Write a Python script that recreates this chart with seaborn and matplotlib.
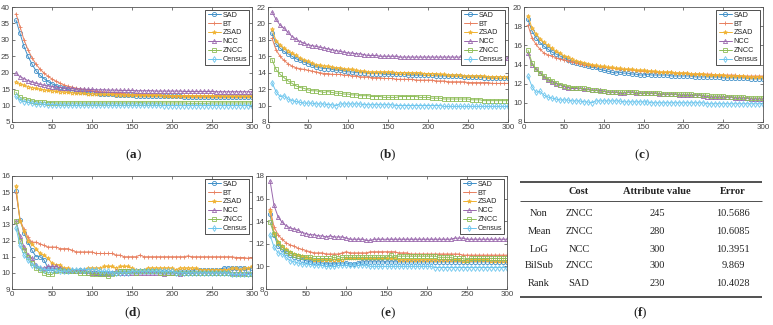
import matplotlib
matplotlib.use("Agg")
import matplotlib.pyplot as plt
import seaborn as sns
import pandas as pd

# iterations (x axis) shared by every panel
x = list(range(5, 305, 5))
methods = ["SAD", "BT", "ZSAD", "NCC", "ZNCC", "Census"]

# ---- panel (a) ----
a_sad = [36.0, 32.0, 28.0, 25.0, 22.6, 20.6, 19.2, 18.2, 17.3, 16.6, 16.0, 15.6,
         15.2, 14.9, 14.6, 14.4, 14.2, 14.0, 13.9, 13.8, 13.7, 13.6, 13.5, 13.4,
         13.4, 13.3, 13.3, 13.2, 13.1, 13.1, 13.0, 13.0, 13.0, 12.9, 12.9, 12.9,
         12.9, 12.8, 12.8, 12.8, 12.8, 12.8, 12.7, 12.7, 12.7, 12.7, 12.7, 12.7,
         12.6, 12.6, 12.6, 12.6, 12.6, 12.6, 12.6, 12.5, 12.5, 12.5, 12.5, 12.5]
a_bt = [38.0, 34.0, 30.0, 27.0, 24.6, 22.6, 21.1, 19.9, 18.9, 18.1, 17.4, 16.8,
        16.3, 15.9, 15.6, 15.3, 15.1, 14.9, 14.7, 14.5, 14.3, 14.2, 14.1, 14.0,
        13.9, 13.8, 13.7, 13.6, 13.5, 13.4, 13.4, 13.3, 13.3, 13.2, 13.2, 13.2,
        13.1, 13.1, 13.1, 13.0, 13.0, 13.0, 13.0, 13.0, 12.9, 12.9, 12.9, 12.9,
        12.9, 12.9, 12.9, 12.8, 12.8, 12.8, 12.8, 12.8, 12.8, 12.8, 12.8, 12.8]
a_zsad = [17.3, 16.6, 16.2, 15.8, 15.5, 15.2, 15.0, 14.8, 14.6, 14.5, 14.3, 14.2,
          14.1, 14.0, 13.9, 13.8, 13.8, 13.7, 13.6, 13.6, 13.5, 13.5, 13.4, 13.4,
          13.4, 13.3, 13.3, 13.3, 13.2, 13.2, 13.2, 13.2, 13.1, 13.1, 13.1, 13.1,
          13.1, 13.0, 13.0, 13.0, 13.0, 13.0, 13.0, 12.9, 12.9, 12.9, 12.9, 12.9,
          12.9, 12.9, 12.9, 12.9, 12.8, 12.8, 12.8, 12.8, 12.8, 12.8, 12.8, 12.8]
a_ncc = [19.8, 18.8, 18.2, 17.6, 17.2, 16.8, 16.5, 16.2, 16.0, 15.8, 15.6, 15.5,
         15.4, 15.3, 15.2, 15.1, 15.0, 15.0, 14.9, 14.9, 14.8, 14.8, 14.8, 14.7,
         14.7, 14.7, 14.6, 14.6, 14.6, 14.6, 14.5, 14.5, 14.5, 14.5, 14.5, 14.4,
         14.4, 14.4, 14.4, 14.4, 14.4, 14.4, 14.3, 14.3, 14.3, 14.3, 14.3, 14.3,
         14.3, 14.3, 14.2, 14.2, 14.2, 14.2, 14.2, 14.2, 14.2, 14.2, 14.2, 14.2]
a_zncc = [14.0, 12.5, 12.0, 11.7, 11.4, 11.2, 11.0, 11.0, 10.9, 10.9, 10.8, 10.8,
          10.8, 10.8, 10.8, 10.8, 10.8, 10.8, 10.8, 10.8, 10.8, 10.8, 10.8, 10.8,
          10.8, 10.8, 10.8, 10.8, 10.8, 10.8, 10.8, 10.9, 10.8, 10.8, 10.8, 10.8,
          10.8, 10.8, 10.8, 10.8, 10.8, 10.8, 10.8, 10.7, 10.7, 10.7, 10.7, 10.7,
          10.7, 10.8, 10.8, 10.8, 10.8, 10.8, 10.8, 10.8, 10.8, 10.8, 10.8, 10.8]
a_census = [12.8, 11.6, 11.2, 11.0, 10.8, 10.6, 10.5, 10.4, 10.3, 10.3, 10.3, 10.2,
            10.2, 10.2, 10.1, 10.1, 10.1, 10.2, 10.2, 10.2, 10.2, 10.2, 10.2, 10.1,
            10.1, 10.1, 10.1, 10.1, 10.1, 10.1, 10.1, 10.1, 10.1, 10.1, 10.1, 10.1,
            10.1, 10.0, 10.0, 10.0, 10.0, 10.0, 10.0, 10.0, 10.0, 10.0, 10.0, 10.0,
            10.0, 10.0, 10.0, 10.0, 10.0, 10.0, 10.0, 10.0, 10.0, 10.0, 10.0, 10.0]

# ---- panel (b) ----
b_sad = [18.8, 17.5, 17.0, 16.6, 16.3, 16.0, 15.7, 15.5, 15.3, 15.1, 14.9, 14.7,
         14.6, 14.5, 14.5, 14.4, 14.3, 14.3, 14.2, 14.1, 14.1, 14.0, 14.0, 14.0,
         13.9, 13.9, 13.9, 13.9, 13.8, 13.8, 13.8, 13.8, 13.8, 13.8, 13.7, 13.7,
         13.7, 13.7, 13.7, 13.7, 13.7, 13.6, 13.6, 13.6, 13.6, 13.6, 13.6, 13.6,
         13.5, 13.5, 13.5, 13.5, 13.5, 13.4, 13.4, 13.4, 13.3, 13.3, 13.3, 13.3]
b_bt = [18.2, 16.8, 16.0, 15.5, 15.1, 14.8, 14.6, 14.5, 14.4, 14.3, 14.2, 14.1,
        14.0, 13.9, 13.9, 13.8, 13.8, 13.8, 13.7, 13.7, 13.6, 13.6, 13.5, 13.5,
        13.5, 13.4, 13.4, 13.4, 13.3, 13.3, 13.3, 13.2, 13.2, 13.2, 13.2, 13.2,
        13.1, 13.1, 13.1, 13.1, 13.1, 13.0, 13.0, 13.0, 12.9, 12.9, 12.9, 12.9,
        12.9, 12.8, 12.8, 12.8, 12.8, 12.8, 12.8, 12.7, 12.7, 12.7, 12.7, 12.7]
b_zsad = [19.3, 17.9, 17.4, 17.0, 16.7, 16.4, 16.1, 15.8, 15.6, 15.4, 15.2, 15.0,
          14.9, 14.8, 14.8, 14.7, 14.6, 14.6, 14.5, 14.4, 14.4, 14.3, 14.2, 14.2,
          14.1, 14.1, 14.1, 14.1, 14.1, 14.1, 14.1, 14.0, 14.0, 14.0, 14.0, 14.0,
          14.0, 14.0, 13.9, 13.9, 13.9, 13.9, 13.8, 13.8, 13.7, 13.7, 13.7, 13.7,
          13.6, 13.6, 13.6, 13.6, 13.6, 13.6, 13.5, 13.5, 13.5, 13.5, 13.5, 13.5]
b_ncc = [21.4, 20.5, 19.8, 19.4, 18.9, 18.4, 18.1, 17.8, 17.6, 17.4, 17.3, 17.2,
         17.1, 17.0, 16.9, 16.8, 16.7, 16.6, 16.5, 16.4, 16.4, 16.3, 16.3, 16.2,
         16.1, 16.1, 16.1, 16.0, 16.0, 16.0, 16.0, 16.0, 15.9, 15.9, 15.9, 15.9,
         15.9, 15.9, 15.9, 15.9, 15.9, 15.9, 15.9, 15.9, 15.9, 15.9, 15.9, 15.9,
         15.9, 15.9, 15.9, 15.9, 15.8, 15.8, 15.8, 15.8, 15.8, 15.8, 15.8, 15.8]
b_zncc = [15.6, 14.4, 13.8, 13.4, 13.0, 12.7, 12.4, 12.2, 12.1, 11.9, 11.8, 11.8,
          11.7, 11.6, 11.7, 11.6, 11.5, 11.5, 11.4, 11.4, 11.3, 11.3, 11.2, 11.2,
          11.2, 11.1, 11.1, 11.1, 11.0, 11.0, 11.0, 11.0, 11.1, 11.1, 11.1, 11.1,
          11.1, 11.0, 11.0, 11.0, 10.9, 10.9, 10.9, 10.8, 10.8, 10.8, 10.8, 10.8,
          10.8, 10.8, 10.7, 10.7, 10.7, 10.6, 10.6, 10.6, 10.6, 10.6, 10.6, 10.6]
b_census = [12.8, 11.7, 11.1, 11.2, 10.8, 10.6, 10.5, 10.4, 10.3, 10.3, 10.3, 10.2,
            10.2, 10.2, 10.1, 10.1, 10.0, 10.2, 10.2, 10.2, 10.2, 10.2, 10.2, 10.1,
            10.1, 10.1, 10.1, 10.1, 10.1, 10.1, 10.1, 10.0, 10.0, 10.0, 10.0, 10.0,
            10.0, 10.0, 10.0, 10.0, 10.0, 10.0, 10.0, 9.9, 9.9, 9.9, 9.9, 9.9,
            9.9, 9.9, 9.9, 9.9, 9.9, 9.9, 9.9, 9.9, 9.9, 9.9, 9.9, 9.9]

# ---- panel (c) ----
c_sad = [18.7, 17.5, 16.8, 16.3, 15.9, 15.6, 15.3, 15.1, 14.9, 14.7, 14.5, 14.3,
         14.2, 14.1, 14.0, 13.8, 13.7, 13.7, 13.5, 13.4, 13.3, 13.2, 13.1, 13.2,
         13.1, 13.1, 13.0, 13.0, 12.9, 12.9, 13.0, 12.9, 12.9, 12.9, 12.9, 12.9,
         12.8, 12.8, 12.8, 12.8, 12.8, 12.8, 12.7, 12.7, 12.7, 12.7, 12.7, 12.7,
         12.7, 12.6, 12.6, 12.6, 12.6, 12.6, 12.6, 12.6, 12.5, 12.5, 12.5, 12.5]
c_bt = [18.1, 16.8, 16.1, 15.6, 15.2, 15.0, 14.9, 14.7, 14.6, 14.5, 14.4, 14.3,
        14.2, 14.1, 14.0, 13.9, 13.9, 13.8, 13.8, 13.7, 13.7, 13.6, 13.6, 13.5,
        13.5, 13.5, 13.4, 13.4, 13.3, 13.3, 13.3, 13.3, 13.2, 13.2, 13.2, 13.2,
        13.2, 13.1, 13.1, 13.1, 13.1, 13.0, 13.0, 13.0, 13.0, 13.0, 13.0, 12.9,
        12.9, 12.9, 12.9, 12.9, 12.9, 12.8, 12.8, 12.8, 12.8, 12.8, 12.8, 12.8]
c_zsad = [19.1, 17.8, 17.2, 16.7, 16.3, 16.0, 15.7, 15.4, 15.2, 14.9, 14.8, 14.6,
          14.4, 14.3, 14.2, 14.1, 14.0, 13.9, 13.8, 13.8, 13.7, 13.7, 13.6, 13.6,
          13.5, 13.5, 13.5, 13.4, 13.4, 13.4, 13.3, 13.3, 13.3, 13.2, 13.2, 13.2,
          13.2, 13.1, 13.1, 13.1, 13.1, 13.0, 13.0, 13.0, 13.0, 12.9, 12.9, 12.9,
          12.9, 12.9, 12.8, 12.8, 12.8, 12.8, 12.8, 12.7, 12.7, 12.7, 12.7, 12.7]
c_ncc = [15.2, 14.0, 13.5, 13.1, 12.7, 12.4, 12.2, 12.0, 11.9, 11.7, 11.6, 11.5,
         11.5, 11.5, 11.4, 11.4, 11.3, 11.3, 11.3, 11.2, 11.1, 11.1, 11.1, 11.0,
         11.0, 11.1, 11.1, 11.0, 11.0, 11.0, 11.0, 11.0, 11.0, 10.9, 10.9, 10.9,
         10.9, 10.9, 10.8, 10.8, 10.8, 10.8, 10.8, 10.8, 10.7, 10.6, 10.6, 10.6,
         10.6, 10.6, 10.6, 10.6, 10.5, 10.5, 10.5, 10.5, 10.4, 10.4, 10.4, 10.4]
c_zncc = [15.5, 14.2, 13.5, 13.1, 12.8, 12.5, 12.3, 12.1, 11.9, 11.8, 11.7, 11.6,
          11.6, 11.5, 11.5, 11.4, 11.3, 11.3, 11.2, 11.2, 11.1, 11.1, 11.1, 11.1,
          11.1, 11.1, 11.1, 11.1, 11.0, 11.0, 11.0, 11.0, 11.0, 11.0, 10.9, 10.9,
          10.9, 10.9, 10.9, 10.9, 10.9, 10.9, 10.8, 10.8, 10.8, 10.8, 10.7, 10.7,
          10.7, 10.7, 10.6, 10.6, 10.6, 10.6, 10.6, 10.5, 10.5, 10.5, 10.5, 10.5]
c_census = [12.8, 11.7, 11.1, 11.2, 10.8, 10.6, 10.5, 10.4, 10.3, 10.3, 10.3, 10.2,
            10.2, 10.2, 10.1, 10.1, 10.0, 10.2, 10.2, 10.2, 10.2, 10.2, 10.2, 10.2,
            10.1, 10.1, 10.1, 10.1, 10.1, 10.1, 10.1, 10.0, 10.0, 10.0, 10.0, 10.0,
            10.0, 10.0, 10.0, 10.0, 10.0, 10.0, 10.0, 10.0, 10.0, 9.9, 9.9, 9.9,
            9.9, 9.9, 9.9, 9.9, 9.9, 9.9, 9.9, 9.9, 9.9, 9.9, 9.9, 9.9]

# ---- panel (d) ----
d_sad = [15.1, 13.3, 12.5, 11.9, 11.4, 11.0, 11.0, 10.8, 10.3, 10.3, 10.2, 10.3,
         10.2, 10.1, 10.1, 10.1, 10.2, 10.1, 10.1, 10.1, 10.0, 10.0, 10.0, 10.0,
         10.0, 10.0, 10.1, 10.1, 10.1, 10.1, 10.1, 10.1, 10.1, 10.1, 10.1, 10.1,
         10.1, 10.1, 10.1, 10.0, 10.1, 10.1, 10.1, 10.1, 10.1, 10.2, 10.2, 10.2,
         10.2, 10.2, 10.2, 10.2, 10.3, 10.3, 10.3, 10.3, 10.3, 10.3, 10.2, 10.3]
d_bt = [15.0, 13.3, 12.7, 12.2, 11.9, 11.9, 11.8, 11.7, 11.6, 11.6, 11.6, 11.5,
        11.5, 11.5, 11.4, 11.3, 11.3, 11.3, 11.3, 11.3, 11.2, 11.2, 11.2, 11.2,
        11.2, 11.1, 11.1, 11.0, 11.0, 11.0, 11.0, 11.1, 11.0, 11.0, 11.0, 11.0,
        11.0, 11.0, 11.0, 11.0, 11.0, 11.0, 11.0, 11.05, 11.0, 11.0, 11.0, 11.0,
        11.0, 11.0, 11.0, 11.0, 11.0, 11.0, 11.0, 10.95, 10.95, 10.95, 10.9, 10.95]
d_zsad = [15.4, 13.2, 12.6, 12.0, 11.8, 11.5, 11.2, 11.1, 10.9, 10.6, 10.5, 10.5,
          10.3, 10.3, 10.2, 10.2, 10.2, 10.2, 10.3, 10.3, 10.3, 10.3, 10.4, 10.4,
          10.4, 10.3, 10.4, 10.4, 10.4, 10.3, 10.2, 10.2, 10.2, 10.3, 10.3, 10.3,
          10.3, 10.3, 10.3, 10.3, 10.2, 10.3, 10.3, 10.3, 10.3, 10.3, 10.2, 10.2,
          10.2, 10.2, 10.2, 10.2, 10.2, 10.2, 10.3, 10.3, 10.2, 10.3, 10.3, 10.4]
d_ncc = [13.2, 12.3, 11.6, 11.1, 10.9, 10.5, 10.3, 10.3, 10.4, 10.4, 10.4, 10.3,
         10.2, 10.2, 10.2, 10.1, 10.1, 10.2, 10.0, 10.0, 10.0, 9.9, 9.9, 9.9,
         10.0, 10.1, 10.0, 10.0, 10.0, 10.0, 10.0, 10.0, 10.0, 10.0, 10.0, 10.0,
         10.0, 9.95, 10.0, 10.0, 10.0, 9.9, 10.0, 10.0, 10.0, 10.0, 10.0, 10.0,
         10.0, 10.0, 10.0, 10.0, 10.0, 10.0, 10.0, 10.0, 10.0, 10.0, 9.95, 9.95]
d_zncc = [13.2, 12.0, 11.4, 11.0, 10.6, 10.3, 10.2, 10.0, 9.9, 9.9, 10.1, 10.2,
          10.1, 10.1, 10.1, 10.1, 10.0, 10.0, 10.0, 9.9, 9.9, 9.9, 9.9, 9.8,
          9.9, 10.0, 10.1, 10.1, 10.1, 10.1, 10.0, 10.1, 10.1, 10.1, 10.1, 10.1,
          10.0, 10.0, 10.0, 10.0, 10.0, 10.0, 10.0, 10.0, 10.0, 10.0, 10.0, 10.0,
          10.0, 10.0, 10.0, 10.0, 10.0, 10.0, 9.9, 9.9, 9.9, 9.9, 9.9, 9.9]
d_census = [12.8, 11.7, 11.1, 10.8, 10.5, 10.4, 10.3, 10.2, 10.2, 10.2, 10.2, 10.1,
            10.1, 10.1, 10.2, 10.2, 10.2, 10.2, 10.2, 10.2, 10.2, 10.1, 10.1, 10.1,
            10.0, 10.0, 10.0, 10.0, 10.0, 10.1, 10.1, 10.1, 10.1, 10.1, 10.1, 10.1,
            10.1, 10.1, 10.1, 10.1, 10.0, 10.0, 10.0, 10.0, 10.0, 10.0, 10.0, 10.0,
            10.0, 10.0, 10.0, 10.0, 10.0, 10.0, 9.9, 9.9, 9.9, 9.9, 9.9, 9.9]

# ---- panel (e) ----
e_sad = [14.6, 12.8, 11.8, 11.5, 11.2, 11.0, 10.8, 10.7, 10.6, 10.5, 10.4, 10.4,
         10.4, 10.3, 10.2, 10.3, 10.2, 10.3, 10.3, 10.3, 10.2, 10.2, 10.3, 10.4,
         10.4, 10.4, 10.4, 10.4, 10.4, 10.4, 10.4, 10.4, 10.4, 10.4, 10.4, 10.4,
         10.4, 10.4, 10.4, 10.4, 10.4, 10.4, 10.4, 10.4, 10.4, 10.4, 10.4, 10.4,
         10.4, 10.4, 10.4, 10.4, 10.4, 10.4, 10.4, 10.4, 10.4, 10.4, 10.4, 10.4]
e_bt = [15.1, 13.5, 12.8, 12.4, 12.1, 11.9, 11.8, 11.6, 11.5, 11.4, 11.3, 11.2,
        11.2, 11.2, 11.1, 11.1, 11.1, 11.1, 11.2, 11.3, 11.2, 11.2, 11.2, 11.2,
        11.2, 11.3, 11.3, 11.3, 11.3, 11.3, 11.3, 11.3, 11.2, 11.2, 11.2, 11.1,
        11.1, 11.1, 11.1, 11.1, 11.1, 11.1, 11.1, 11.1, 11.1, 11.1, 11.1, 11.1,
        11.0, 11.0, 11.0, 11.0, 11.0, 11.0, 11.0, 11.0, 11.0, 11.0, 11.0, 11.0]
e_zsad = [14.9, 13.0, 12.2, 11.8, 11.5, 11.3, 11.1, 11.0, 10.9, 10.8, 10.7, 10.6,
          10.6, 10.6, 10.6, 10.6, 10.6, 10.6, 10.6, 10.7, 10.7, 10.7, 10.7, 10.7,
          10.7, 10.7, 10.7, 10.7, 10.7, 10.7, 10.7, 10.7, 10.6, 10.6, 10.6, 10.6,
          10.6, 10.6, 10.6, 10.6, 10.6, 10.6, 10.6, 10.6, 10.6, 10.6, 10.6, 10.6,
          10.5, 10.5, 10.6, 10.6, 10.6, 10.6, 10.6, 10.5, 10.5, 10.5, 10.5, 10.5]
e_ncc = [17.6, 15.4, 14.4, 13.9, 13.6, 13.4, 13.3, 13.2, 13.0, 12.9, 12.8, 12.8,
         12.7, 12.7, 12.6, 12.7, 12.6, 12.6, 12.6, 12.5, 12.4, 12.4, 12.4, 12.4,
         12.3, 12.3, 12.4, 12.4, 12.4, 12.4, 12.4, 12.4, 12.4, 12.4, 12.4, 12.4,
         12.4, 12.4, 12.4, 12.4, 12.4, 12.4, 12.4, 12.4, 12.4, 12.4, 12.5, 12.5,
         12.5, 12.4, 12.4, 12.4, 12.4, 12.4, 12.4, 12.4, 12.4, 12.4, 12.4, 12.4]
e_zncc = [13.9, 12.9, 12.1, 11.7, 11.4, 11.2, 11.0, 10.9, 10.8, 10.8, 10.8, 10.7,
          10.7, 10.7, 10.7, 10.7, 10.8, 10.7, 10.8, 10.8, 10.8, 10.8, 10.8, 10.8,
          10.8, 10.8, 10.8, 10.8, 10.8, 10.8, 11.0, 10.8, 10.9, 10.9, 10.9, 10.9,
          10.9, 10.9, 10.9, 10.9, 10.9, 10.9, 10.8, 10.8, 10.8, 10.8, 10.7, 10.7,
          10.7, 10.6, 10.7, 10.7, 10.7, 10.7, 10.7, 10.7, 10.7, 10.7, 10.7, 10.7]
e_census = [12.8, 11.7, 11.2, 11.1, 10.8, 10.5, 10.4, 10.3, 10.2, 10.2, 10.2, 10.1,
            10.1, 10.1, 10.0, 10.0, 10.0, 10.1, 10.1, 10.1, 10.1, 10.1, 10.1, 10.1,
            10.1, 10.0, 10.0, 10.0, 10.0, 10.0, 10.0, 10.0, 10.0, 10.0, 10.0, 10.0,
            10.0, 10.0, 10.0, 10.0, 10.0, 9.9, 9.9, 9.9, 9.9, 9.9, 9.9, 9.9,
            9.9, 9.9, 9.9, 9.9, 9.9, 9.9, 9.9, 9.9, 9.9, 9.9, 9.9, 9.9]

# ---- table (f) ----
tab_filter = ["Non", "Mean", "LoG", "BilSub", "Rank"]
tab_cost = ["ZNCC", "ZNCC", "NCC", "ZNCC", "SAD"]
tab_attr = ["245", "280", "300", "300", "230"]
tab_error = ["10.5686", "10.6085", "10.3951", "9.869", "10.4028"]

colors = {"SAD": "#3f8fc8", "BT": "#e88060", "ZSAD": "#f0b232",
          "NCC": "#9a68ad", "ZNCC": "#8ebd58", "Census": "#6cc6ee"}
markers = {"SAD": "o", "BT": "+", "ZSAD": "*", "NCC": "^", "ZNCC": "s", "Census": "d"}

sns.set_theme(style="ticks")
plt.rcParams["font.family"] = ["Liberation Sans", "DejaVu Sans"]
plt.rcParams["mathtext.fontset"] = "custom"
plt.rcParams["mathtext.rm"] = "Liberation Serif"
plt.rcParams["mathtext.bf"] = "Liberation Serif:bold"

W, H = 773, 325
fig = plt.figure(figsize=(W / 100, H / 100), dpi=100)


def px_axes(left, top, right, bottom):
    return fig.add_axes([left / W, 1 - bottom / H, (right - left) / W, (bottom - top) / H])


def draw_panel(ax, series, ylim, ystep):
    handles = []
    for name, vals in zip(methods, series):
        sns.lineplot(x=x, y=vals, color=colors[name], marker=markers[name],
                     markersize=3.0, linewidth=0.7, markerfacecolor="none",
                     markeredgecolor=colors[name], markeredgewidth=0.6,
                     estimator=None, ax=ax)
        handles.append(ax.lines[-1])
    ax.set_xlim(0, 300)
    ax.set_ylim(*ylim)
    ax.set_xticks(range(0, 301, 50))
    ax.set_yticks(range(ylim[0], ylim[1] + 1, ystep))
    ax.set_xlabel("")
    ax.set_ylabel("")
    ax.tick_params(direction="in", length=2.5, width=0.5, labelsize=5.8,
                   colors="#444444", top=True, right=True, pad=1.5)
    for sp in ax.spines.values():
        sp.set_linewidth(0.6)
        sp.set_color("#555555")
    leg = ax.legend(handles, methods, loc="upper right",
                    fontsize=5.2, frameon=True, fancybox=False,
                    edgecolor="#333333", framealpha=1, handlelength=1.8,
                    handletextpad=0.3, borderpad=0.3, labelspacing=0.25,
                    borderaxespad=0.35)
    leg.get_frame().set_linewidth(0.6)


panels = [
    ((12, 7, 252, 122), [a_sad, a_bt, a_zsad, a_ncc, a_zncc, a_census], (5, 40), 5),
    ((268, 7, 508, 122), [b_sad, b_bt, b_zsad, b_ncc, b_zncc, b_census], (8, 22), 2),
    ((524, 7, 763, 122), [c_sad, c_bt, c_zsad, c_ncc, c_zncc, c_census], (8, 20), 2),
    ((12, 176, 252, 289), [d_sad, d_bt, d_zsad, d_ncc, d_zncc, d_census], (9, 16), 1),
    ((266, 176, 507, 289), [e_sad, e_bt, e_zsad, e_ncc, e_zncc, e_census], (8, 18), 2),
]
for rect, series, ylim, ystep in panels:
    draw_panel(px_axes(*rect), series, ylim, ystep)

# overlay in pixel coordinates for panel tags and the table
ov = fig.add_axes([0, 0, 1, 1])
ov.set_xlim(0, W)
ov.set_ylim(H, 0)
ov.axis("off")

serif = ["Liberation Serif", "DejaVu Serif"]
tags = [("a", 133, 155), ("b", 388, 155), ("c", 642, 155),
        ("d", 133, 313), ("e", 388, 313), ("f", 640, 313)]
for t, tx, ty in tags:
    ov.text(tx, ty, r"($\mathbf{%s}$)" % t, ha="center", va="center",
            fontsize=9.5, family=serif, color="#222222")

# table
col_x = [539, 579, 657, 733]
ov.hlines(182, 520, 762, color="#333333", lw=1.2)
ov.hlines(201, 520, 762, color="#333333", lw=0.6)
ov.hlines(297, 520, 762, color="#333333", lw=1.2)
for cx, head in zip(col_x[1:], ["Cost", "Attribute value", "Error"]):
    ov.text(cx, 192, head, ha="center", va="center", fontsize=7.5,
            family=serif, weight="bold", color="#222222")
row_y = [214, 231, 249, 266, 284]
for i, ry in enumerate(row_y):
    for cx, val in zip(col_x, [tab_filter[i], tab_cost[i], tab_attr[i], tab_error[i]]):
        ov.text(cx, ry, val, ha="center", va="center", fontsize=7.5,
                family=serif, color="#222222")

fig.savefig("out.png", dpi=100)
